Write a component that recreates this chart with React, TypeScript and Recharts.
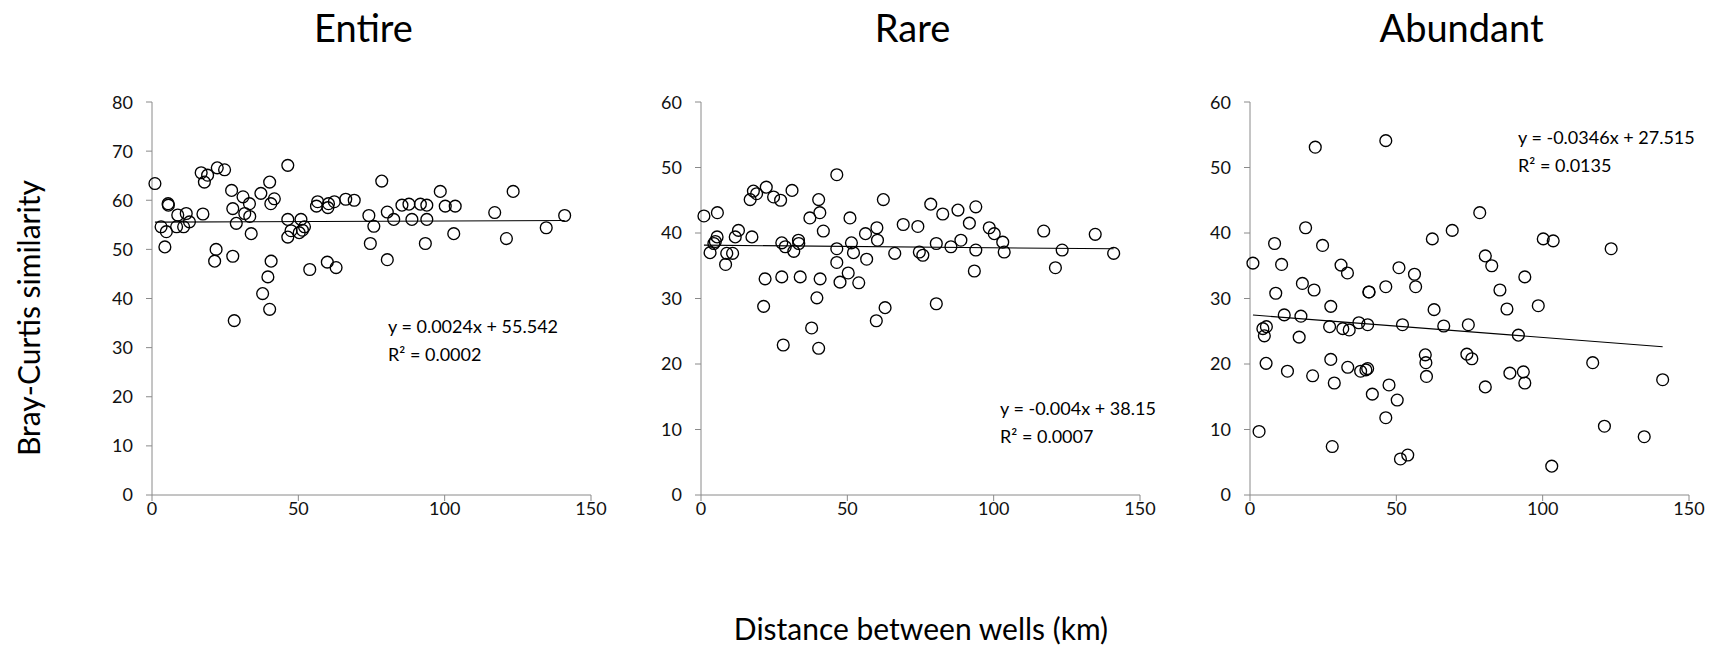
import { ScatterChart, Scatter, XAxis, YAxis, ReferenceLine } from 'recharts'

// distance between well pairs (km), shared by all three panels
const distance = [
  1.0, 3.1, 4.4, 4.9, 5.5, 5.6, 8.4, 8.8, 10.8, 11.7,
  12.8, 16.8, 17.4, 17.9, 19.0, 21.4, 21.9, 22.3, 24.8, 27.2,
  27.6, 27.6, 28.1, 28.8, 31.1, 31.7, 33.3, 33.4, 33.9, 37.2,
  37.8, 39.6, 40.2, 40.2, 40.6, 40.7, 41.8, 46.4, 46.4, 46.4,
  47.5, 50.3, 50.9, 51.4, 52.1, 53.9, 56.2, 56.6, 59.9, 60.1,
  60.3, 62.3, 62.9, 66.2, 69.1, 74.1, 74.6, 75.8, 78.5, 80.4,
  80.4, 82.6, 85.4, 87.8, 88.8, 91.7, 93.4, 93.9, 93.9, 98.5,
  100.2, 103.1, 103.6, 117.1, 121.1, 123.4, 134.7, 141.0,
]

const entire = [
  63.4, 54.6, 50.5, 53.6, 59.3, 59.0, 54.6, 57.0, 54.6, 57.3,
  55.6, 65.6, 57.2, 63.7, 65.1, 47.6, 50.0, 66.6, 66.2, 62.0,
  58.3, 48.6, 35.5, 55.3, 60.7, 57.3, 59.3, 56.7, 53.2, 61.4,
  41.0, 44.4, 63.7, 37.8, 59.3, 47.6, 60.3, 67.1, 56.1, 52.5,
  53.8, 53.4, 56.1, 53.9, 54.6, 45.9, 58.8, 59.7, 47.4, 58.5,
  59.3, 59.7, 46.3, 60.2, 60.0, 56.9, 51.2, 54.7, 63.9, 57.6,
  47.9, 56.1, 59.0, 59.2, 56.1, 59.2, 51.2, 59.0, 56.1, 61.8,
  58.8, 53.2, 58.8, 57.5, 52.2, 61.8, 54.4, 56.9,
]

const rare = [
  42.6, 37.0, 38.4, 38.7, 39.4, 43.1, 35.2, 36.9, 36.9, 39.4,
  40.4, 45.1, 39.4, 46.4, 46.0, 28.8, 33.0, 47.0, 45.5, 45.0,
  33.3, 38.5, 22.9, 37.9, 46.5, 37.2, 38.9, 38.4, 33.3, 42.3,
  25.5, 30.1, 45.1, 22.4, 43.1, 33.0, 40.3, 48.9, 37.6, 35.5,
  32.5, 33.9, 42.3, 38.5, 37.0, 32.4, 39.9, 36.0, 26.6, 40.8,
  38.9, 45.1, 28.6, 36.9, 41.3, 41.0, 37.1, 36.6, 44.4, 38.4,
  29.2, 42.9, 37.9, 43.5, 38.9, 41.5, 34.2, 44.0, 37.4, 40.8,
  39.9, 38.6, 37.1, 40.3, 34.7, 37.4, 39.8, 36.9,
]

const abundant = [
  35.4, 9.7, 25.4, 24.3, 20.1, 25.7, 38.4, 30.8, 35.2, 27.5,
  18.9, 24.1, 27.3, 32.3, 40.8, 18.2, 31.3, 53.1, 38.1, 25.7,
  28.8, 20.7, 7.4, 17.1, 35.1, 25.4, 33.9, 19.5, 25.2, 26.3,
  18.9, 19.1, 19.3, 26.0, 31.0, 31.0, 15.4, 54.1, 31.8, 11.8,
  16.8, 14.5, 34.7, 5.5, 26.0, 6.1, 33.7, 31.8, 21.4, 20.2,
  18.1, 39.1, 28.3, 25.8, 40.4, 21.5, 26.0, 20.8, 43.1, 36.5,
  16.5, 35.0, 31.3, 28.4, 18.6, 24.4, 18.8, 33.3, 17.1, 28.9,
  39.1, 4.4, 38.8, 20.2, 10.5, 37.6, 8.9, 17.6,
]

const xTicks = [0, 50, 100, 150]
const ticks80 = [0, 10, 20, 30, 40, 50, 60, 70, 80]
const ticks60 = [0, 10, 20, 30, 40, 50, 60]

const FONT = 'Lato, "Open Sans", sans-serif'
const AXIS_GREY = '#8a8a8a'
const PLOT_TOP = 102
const PLOT_W = 439
const PLOT_H = 393
const Y_AXIS_W = 60

const panels = [
  {
    title: 'Entire', values: entire, yMax: 80, yTicks: ticks80,
    slope: 0.0024, intercept: 55.542, eq: 'y = 0.0024x + 55.542', r2: 'R² = 0.0002',
    plotLeft: 152, eqLeft: 388, eqTop: 312,
  },
  {
    title: 'Rare', values: rare, yMax: 60, yTicks: ticks60,
    slope: -0.004, intercept: 38.15, eq: 'y = -0.004x + 38.15', r2: 'R² = 0.0007',
    plotLeft: 701, eqLeft: 1000, eqTop: 394,
  },
  {
    title: 'Abundant', values: abundant, yMax: 60, yTicks: ticks60,
    slope: -0.0346, intercept: 27.515, eq: 'y = -0.0346x + 27.515', r2: 'R² = 0.0135',
    plotLeft: 1250, eqLeft: 1518, eqTop: 123,
  },
]

const OpenCircle = (props: any) => {
  const { cx, cy } = props
  if (cx == null || cy == null) return <g />
  return <circle cx={cx} cy={cy} r={5.9} fill="none" stroke="#000" strokeWidth={1.35} />
}

const tickStyle = { fill: '#111', fontSize: 18, fontFamily: FONT }

const Panel = ({ p }: { p: typeof panels[number] }) => {
  const data = distance.map((x, i) => ({ x, y: p.values[i] }))
  const xMin = Math.min(...distance)
  const xMax = Math.max(...distance)

  return (
    <>
      <div
        style={{
          position: 'absolute',
          left: p.plotLeft + PLOT_W / 2 - 8,
          top: 8,
          transform: 'translateX(-50%)',
          fontSize: 38,
          lineHeight: '38px',
          whiteSpace: 'nowrap',
        }}
      >
        {p.title}
      </div>
      <div style={{ position: 'absolute', left: p.plotLeft - Y_AXIS_W, top: PLOT_TOP - 10 }}>
        <ScatterChart
          width={Y_AXIS_W + PLOT_W + 20}
          height={10 + PLOT_H + 40}
          margin={{ top: 10, right: 20, bottom: 0, left: 0 }}
        >
          <XAxis
            type="number"
            dataKey="x"
            domain={[0, 150]}
            ticks={xTicks}
            height={40}
            tickSize={6}
            tickMargin={1}
            stroke={AXIS_GREY}
            tick={tickStyle}
          />
          <YAxis
            type="number"
            dataKey="y"
            domain={[0, p.yMax]}
            ticks={p.yTicks}
            width={Y_AXIS_W}
            tickSize={6}
            tickMargin={13}
            stroke={AXIS_GREY}
            tick={tickStyle}
          />
          <ReferenceLine
            segment={[
              { x: xMin, y: p.slope * xMin + p.intercept },
              { x: xMax, y: p.slope * xMax + p.intercept },
            ]}
            stroke="#000"
            strokeWidth={1.1}
          />
          <Scatter data={data} shape={OpenCircle} isAnimationActive={false} />
        </ScatterChart>
      </div>
      <div
        style={{
          position: 'absolute',
          left: p.eqLeft,
          top: p.eqTop,
          fontSize: 18,
          lineHeight: '28px',
          whiteSpace: 'nowrap',
        }}
      >
        <div>{p.eq}</div>
        <div>{p.r2}</div>
      </div>
    </>
  )
}

export default function App() {
  return (
    <div
      style={{
        position: 'absolute',
        left: 0,
        top: 0,
        width: 1711,
        height: 646,
        background: '#fff',
        fontFamily: FONT,
        color: '#000',
        overflow: 'hidden',
      }}
    >
      {panels.map((p) => (
        <Panel key={p.title} p={p} />
      ))}
      <div
        style={{
          position: 'absolute',
          left: 28,
          top: 318,
          transform: 'translate(-50%, -50%) rotate(-90deg)',
          fontSize: 30,
          lineHeight: '30px',
          whiteSpace: 'nowrap',
        }}
      >
        Bray-Curtis similarity
      </div>
      <div
        style={{
          position: 'absolute',
          left: 921,
          top: 613,
          transform: 'translateX(-50%)',
          fontSize: 30,
          lineHeight: '30px',
          whiteSpace: 'nowrap',
        }}
      >
        Distance between wells (km)
      </div>
    </div>
  )
}
